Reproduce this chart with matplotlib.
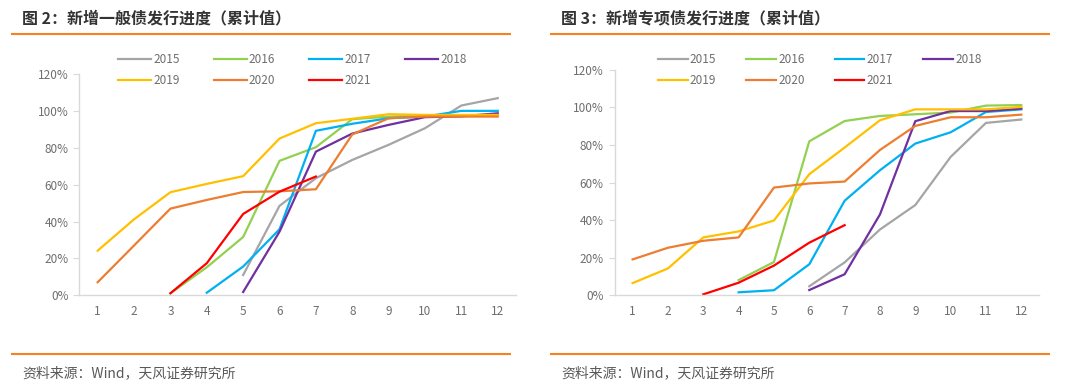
import numpy as np
import matplotlib
matplotlib.use("Agg")
import matplotlib.pyplot as plt
from matplotlib.ticker import FuncFormatter

plt.rcParams['font.family'] = ['Noto Sans CJK SC', 'DejaVu Sans']

# 月份
months = list(range(1, 13))
years = ["2015", "2016", "2017", "2018", "2019", "2020", "2021"]
colors = ["#A5A5A5", "#92D050", "#00B0F0", "#7030A0", "#FFC000", "#ED7D31", "#FF0000"]

# 图2：新增一般债发行进度（累计值, %），None 表示无数据
general_2015 = [None, None, None, None, 11.0, 48.5, 63.5, 73.4, 81.6, 90.6, 102.9, 106.9]
general_2016 = [None, None, 1.1, 15.2, 31.6, 72.9, 80.3, 95.5, 96.9, 97.3, 97.6, 98.0]
general_2017 = [None, None, None, 1.4, 15.6, 35.8, 89.2, 93.0, 96.0, 96.9, 100.0, 100.0]
general_2018 = [None, None, None, None, 1.8, 34.5, 77.9, 87.7, 92.4, 96.6, 97.0, 98.7]
general_2019 = [24.2, 41.2, 55.9, 60.4, 64.6, 85.0, 93.3, 95.7, 98.2, 97.8, 97.8, 97.8]
general_2020 = [7.1, 27.0, 47.0, 51.7, 56.0, 56.4, 57.5, 87.2, 96.0, 96.9, 96.9, 96.9]
general_2021 = [None, None, 1.1, 17.4, 44.1, 56.2, 64.4, None, None, None, None, None]

# 图3：新增专项债发行进度（累计值, %）
special_2015 = [None, None, None, None, None, 4.8, 17.5, 35.0, 48.0, 73.6, 91.7, 93.5]
special_2016 = [None, None, None, 8.1, 17.7, 81.9, 92.7, 95.4, 96.3, 97.2, 100.9, 101.2]
special_2017 = [None, None, None, 1.6, 2.7, 16.5, 50.3, 66.5, 80.7, 86.7, 97.5, 98.9]
special_2018 = [None, None, None, None, None, 2.8, 11.2, 43.0, 92.6, 98.0, 98.0, 99.3]
special_2019 = [6.5, 14.3, 30.8, 34.0, 39.8, 64.4, 78.6, 93.1, 98.9, 98.9, 98.9, 100.2]
special_2020 = [19.1, 25.3, 29.0, 30.8, 57.3, 59.5, 60.5, 77.3, 90.1, 94.7, 94.7, 96.1]
special_2021 = [None, None, 0.5, 6.7, 15.8, 28.0, 37.3, None, None, None, None, None]

general = [general_2015, general_2016, general_2017, general_2018,
           general_2019, general_2020, general_2021]
special = [special_2015, special_2016, special_2017, special_2018,
           special_2019, special_2020, special_2021]

title_left = "图 2：新增一般债发行进度（累计值）"
title_right = "图 3：新增专项债发行进度（累计值）"
source = "资料来源：Wind，天风证券研究所"

orange = "#F58220"
tick_color = "#6E6E6E"
spine_color = "#D9D9D9"


def to_arr(vals):
    return np.array([np.nan if v is None else v / 100.0 for v in vals])


def draw_panel(ax, series, legend_anchor, handlelen, colspace):
    lines = []
    for vals, c, y in zip(series, colors, years):
        ln, = ax.plot(months, to_arr(vals), color=c, lw=1.6, label=y)
        lines.append(ln)
    ax.set_xlim(0.5, 12.5)
    ax.set_ylim(0, 1.2)
    ax.set_xticks(months)
    ax.set_yticks(np.arange(0, 1.21, 0.2))
    ax.yaxis.set_major_formatter(FuncFormatter(lambda v, p: f"{v*100:.0f}%"))
    for s in ["top", "right"]:
        ax.spines[s].set_visible(False)
    for s in ["left", "bottom"]:
        ax.spines[s].set_color(spine_color)
        ax.spines[s].set_linewidth(1.0)
    ax.tick_params(axis="y", length=4, color=spine_color, labelsize=8.5, labelcolor=tick_color, pad=4)
    ax.tick_params(axis="x", length=0, labelsize=8.5, labelcolor=tick_color, pad=7)
    # 图例：逐行排列，共两行
    order = [0, 4, 1, 5, 2, 6, 3]
    ax.legend([lines[i] for i in order], [years[i] for i in order],
              ncol=4, loc="upper left", bbox_to_anchor=legend_anchor,
              bbox_transform=ax.figure.transFigure, frameon=False,
              prop={"size": 8.5}, labelcolor=tick_color, handlelength=handlelen,
              handletextpad=0.2, columnspacing=colspace, labelspacing=0.7,
              borderpad=0, borderaxespad=0)


fig = plt.figure(figsize=(10.8, 3.9), dpi=100)

ax1 = fig.add_axes([0.0736, 0.2428, 0.4041, 0.5675])
draw_panel(ax1, general, (118 / 1080, 1 - 53 / 390), 2.8, 2.85)

ax2 = fig.add_axes([0.5694, 0.2428, 0.3926, 0.5785])
draw_panel(ax2, special, (658 / 1080, 1 - 53 / 390), 2.5, 2.55)

# 标题、分隔线与资料来源
for x0, x1, title in [(12, 510, title_left), (551, 1049, title_right)]:
    fig.text((x0 + 10) / 1080, 1 - 18 / 390, title, fontsize=11.5, fontweight="bold",
             color="#333333", va="center", ha="left")
    fig.add_artist(plt.Line2D([x0 / 1080, x1 / 1080], [1 - 33.5 / 390] * 2,
                              color=orange, lw=1.5))
    fig.add_artist(plt.Line2D([x0 / 1080, x1 / 1080], [1 - 354 / 390] * 2,
                              color=orange, lw=1.5))
    fig.text((x0 + 10) / 1080, 1 - 373 / 390, source, fontsize=10,
             color="#595959", va="center", ha="left")

fig.savefig("out.png", dpi=100)
